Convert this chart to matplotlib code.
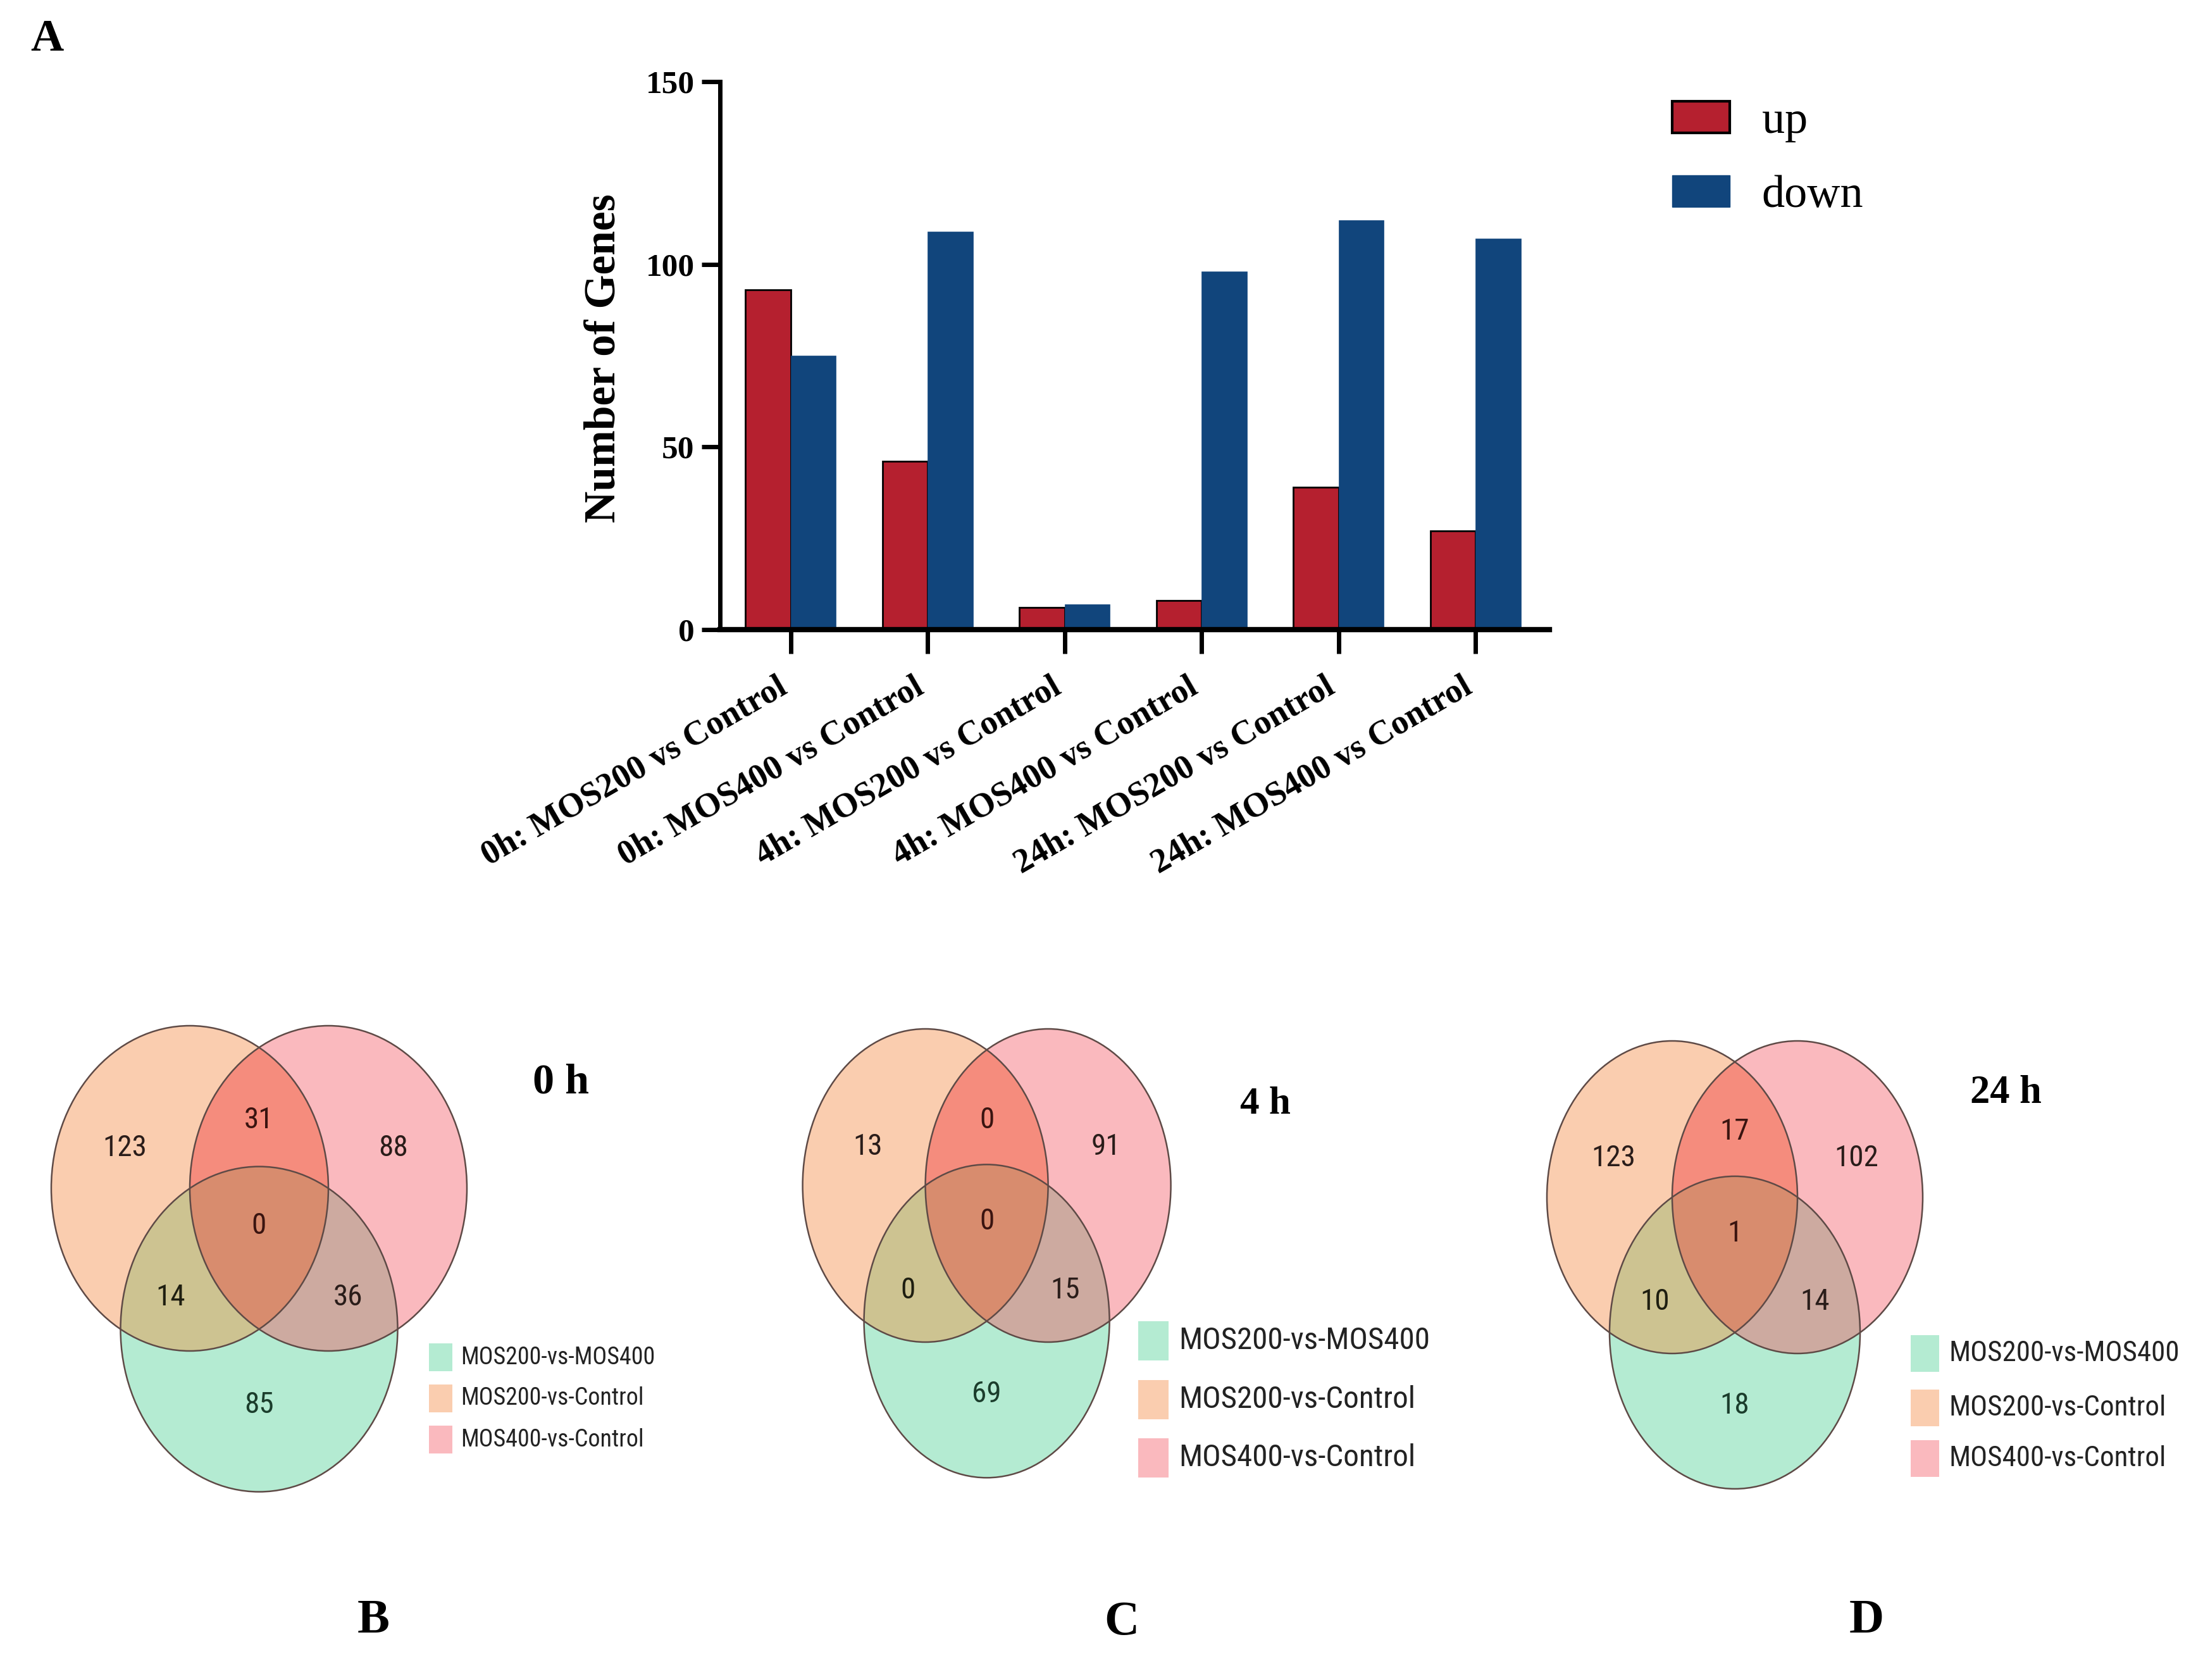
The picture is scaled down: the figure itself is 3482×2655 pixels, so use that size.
import matplotlib
matplotlib.use("Agg")
import matplotlib.pyplot as plt
import matplotlib.transforms as mtrans
import numpy as np
from matplotlib.patches import Circle, Polygon, Rectangle, Patch

plt.rcParams['font.family'] = ['Liberation Serif', 'DejaVu Serif']

W, H = 3482, 2655

# panel A data
comparisons = ["0h: MOS200 vs Control", "0h: MOS400 vs Control",
               "4h: MOS200 vs Control", "4h: MOS400 vs Control",
               "24h: MOS200 vs Control", "24h: MOS400 vs Control"]
up_genes = [93, 46, 6, 8, 39, 27]
down_genes = [75, 109, 7, 98, 112, 107]
y_ticks = [0, 50, 100, 150]

# venn data: sets and region counts
venn_sets = ["MOS200-vs-MOS400", "MOS200-vs-Control", "MOS400-vs-Control"]
venn_titles = ["0 h", "4 h", "24 h"]
panel_letters = ["B", "C", "D"]
# order: 200C only, 400C only, 200C&400C, all three, 200C&200v400, 400C&200v400, 200v400 only
venn_0h = [123, 88, 31, 0, 14, 36, 85]
venn_4h = [13, 91, 0, 0, 0, 15, 69]
venn_24h = [123, 102, 17, 1, 10, 14, 18]


def fx(px):
    return px / W


def fy(py):
    return 1 - py / H


fig = plt.figure(figsize=(W / 100, H / 100), dpi=100)

# ---------------- panel A: bar chart ----------------
ax = fig.add_axes([fx(1138), fy(995), fx(2449) - fx(1138), fy(129) - fy(995)])
x = np.arange(len(comparisons))
bw = 0.33
ax.bar(x - bw / 2, up_genes, bw, color="#B5202F", edgecolor="black", linewidth=2, label="up")
ax.bar(x + bw / 2, down_genes, bw, color="#11457C", edgecolor="#11457C", linewidth=0.5, label="down")
ax.set_xlim(-0.517, 5.54)
ax.set_ylim(0, 150)
ax.set_yticks(y_ticks)
ax.set_xticks(x)
ax.spines["top"].set_visible(False)
ax.spines["right"].set_visible(False)
ax.spines["left"].set_linewidth(5)
ax.spines["bottom"].set_linewidth(6)
ax.tick_params(axis="y", length=21, width=5, pad=8)
ax.tick_params(axis="x", length=27, width=5, pad=22)
ax.set_xticklabels(comparisons, rotation=30, ha="right", rotation_mode="anchor",
                   fontsize=39, fontweight="bold")
shift = mtrans.ScaledTranslation(-0.22, 0.02, fig.dpi_scale_trans)
for lab in ax.get_xticklabels():
    lab.set_transform(lab.get_transform() + shift)
for lab in ax.get_yticklabels():
    lab.set_fontsize(37)
    lab.set_fontweight("bold")
fig.text(fx(955), fy(566), "Number of Genes", rotation=90, ha="center", va="center",
         fontsize=50, fontweight="bold")

handles = [Patch(facecolor="#B5202F", edgecolor="black", linewidth=3, label="up"),
           Patch(facecolor="#11457C", edgecolor="#11457C", label="down")]
fig.legend(handles=handles, loc="upper left", bbox_to_anchor=(fx(2643), fy(160)),
           frameon=False, fontsize=52, handlelength=1.26, handleheight=0.68,
           handletextpad=0.7, labelspacing=0.72, borderpad=0, borderaxespad=0)
fig.text(fx(74), fy(62), "A", ha="center", va="center", fontsize=52, fontweight="bold")

# ---------------- panels B-D: venn diagrams ----------------
sans = ['Roboto Condensed', 'Liberation Sans Narrow', 'Roboto', 'DejaVu Sans']
centres = {"o": (-0.5, 0.0), "p": (0.5, 0.0), "g": (0.0, -0.866)}
fills = {"o": "#FACDAF", "p": "#FAB9BE", "g": "#B4EBD2"}
overlap_fills = {"op": "#F58C7D", "og": "#CDC391", "pg": "#CDAAA0", "opg": "#D88C6E"}
text_pos = [(-0.97, 0.25), (0.97, 0.25), (0.0, 0.42), (0.0, -0.23),
            (-0.64, -0.67), (0.64, -0.67), (0.0, -1.33)]
text_col = ["#2a1d1a", "#2a1d1a", "#3a1410", "#3a1410", "#1e1e10", "#2a1d1a", "#1b3d2c"]
t = np.linspace(0, 2 * np.pi, 721)


def region(keys):
    pts = []
    for k in keys:
        cx, cy = centres[k]
        ring = np.column_stack([cx + np.cos(t), cy + np.sin(t)])
        ok = np.ones(len(ring), bool)
        for j in keys:
            if j != k:
                jx, jy = centres[j]
                ok &= (ring[:, 0] - jx) ** 2 + (ring[:, 1] - jy) ** 2 <= 1 + 1e-9
        pts.append(ring[ok])
    pts = np.vstack(pts)
    c = pts.mean(0)
    order = np.argsort(np.arctan2(pts[:, 1] - c[1], pts[:, 0] - c[0]))
    return pts[order]


# layout per panel: mid x, circle centre y, half width, half height (pixels)
layouts = [(409.5, 1878, 219, 257), (1559.6, 1873.5, 194, 247.5), (2742, 1892, 198, 247)]
title_xy = [(886, 1711, 49), (2000, 1745, 44), (3170, 1728, 45)]
letter_xy = [(590, 2562), (1773, 2564), (2950, 2562)]
legend_boxes = [  # x0, x1, square height, row centres, text x, width of first label
    (678, 715, 44, [2145, 2210, 2275], 728, 308),
    (1799, 1847, 62, [2119, 2212, 2304], 1863, 398),
    (3020, 3065, 58, [2139, 2225, 2305], 3080, 364),
]
venn_counts = [venn_0h, venn_4h, venn_24h]
legend_order = ["g", "o", "p"]
renderer = fig.canvas.get_renderer()

for i, counts in enumerate(venn_counts):
    mx, cy, w, h = layouts[i]
    vax = fig.add_axes([fx(mx - 1.6 * w), fy(cy + 1.95 * h), 3.2 * w / W, 3.05 * h / H])
    vax.set_xlim(-1.6, 1.6)
    vax.set_ylim(-1.95, 1.1)
    vax.axis("off")
    for k in ["o", "p", "g"]:
        vax.add_patch(Circle(centres[k], 1, facecolor=fills[k], edgecolor="none"))
    for keys, col in overlap_fills.items():
        vax.add_patch(Polygon(region(keys), closed=True, facecolor=col, edgecolor="none"))
    for k in ["o", "p", "g"]:
        vax.add_patch(Circle(centres[k], 1, fill=False, edgecolor="#5e4a46", linewidth=1.8))
    for (tx, ty), n, c in zip(text_pos, counts, text_col):
        vax.text(tx, ty, str(n), ha="center", va="center", fontsize=34, family=sans, color=c)

    tx, ty, fs = title_xy[i]
    fig.text(fx(tx), fy(ty), venn_titles[i], ha="center", va="center",
             fontsize=fs, fontweight="bold")
    lx, ly = letter_xy[i]
    fig.text(fx(lx), fy(ly), panel_letters[i], ha="center", va="center",
             fontsize=55, fontweight="bold")

    x0, x1, sh, rows, txt_x, target = legend_boxes[i]
    texts = []
    for k, name, ry in zip(legend_order, venn_sets, rows):
        fig.patches.append(Rectangle((fx(x0), fy(ry + sh / 2)), (x1 - x0) / W, sh / H,
                                     transform=fig.transFigure, facecolor=fills[k],
                                     edgecolor="none"))
        texts.append(fig.text(fx(txt_x), fy(ry), name, ha="left", va="center",
                              fontsize=30, family=sans, color="#222222"))
    # fit the label size to the width seen in the reference
    wpx = texts[0].get_window_extent(renderer).width
    for tt in texts:
        tt.set_fontsize(30 * target / wpx)

fig.savefig("out.png", dpi=100)
